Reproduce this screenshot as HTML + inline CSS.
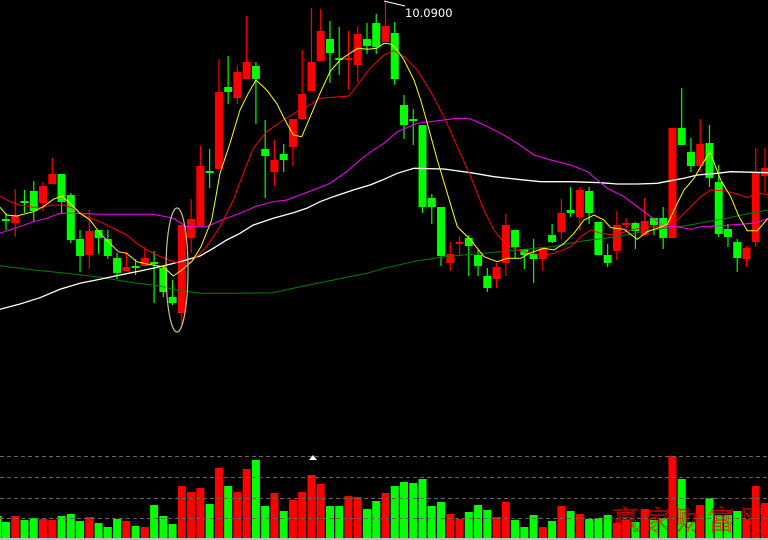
<!DOCTYPE html>
<html><head><meta charset="utf-8"><style>
html,body{margin:0;padding:0;background:#000;width:768px;height:540px;overflow:hidden}
svg{display:block}
</style></head><body>
<svg id="s" width="768" height="540" xmlns="http://www.w3.org/2000/svg">
<rect width="768" height="540" fill="#000"/>
<g id="vol"></g>
<g id="candles"></g>
<g id="lines" fill="none"></g>
<ellipse cx="177" cy="270" rx="11" ry="62" fill="none" stroke="#c8c080" stroke-width="1.2"/>
<polyline points="384,1 405,6" stroke="#fff" fill="none"/>
<text x="405" y="17" fill="#fff" font-family="DejaVu Sans, Liberation Sans, sans-serif" font-size="11.5">10.0900</text>
<g stroke="#666" stroke-dasharray="4,3" stroke-width="1">
<line x1="0" y1="456.5" x2="768" y2="456.5"/><line x1="0" y1="477.5" x2="768" y2="477.5"/>
<line x1="0" y1="498.5" x2="768" y2="498.5"/><line x1="0" y1="518.5" x2="768" y2="518.5"/>
</g>
<polygon points="313,455 309,460 317,460" fill="#fff"/>
<rect x="0" y="538" width="768" height="2" fill="#c0c0c0"/>
<text x="612" y="530" fill="none" stroke="#ff0000" stroke-width="0.6" font-family="Liberation Sans, 'Noto Serif CJK SC', serif" font-size="27" letter-spacing="5">赢家财富网</text>
</svg>
<script>
var R='#ff0000',G='#00ff00';
var c=[
['g',220,220,213,230],['r',216,223,189,237],['g',202,202,190,213],['g',191,211,181,222],['r',186,203,182,211],
['r',174,184,158,184],['g',174,202,174,214],['g',195,240,193,243],['g',239,256,230,272],['r',231,255,210,269],
['g',230,238,230,254],['g',239,256,230,259],['g',258,273,253,279],['r',267,271,252,271],['g',267,267,259,275],
['r',258,266,247,266],['g',263,263,251,303],['g',268,292,267,297],['g',297,303,280,305],['r',225,313,225,325],
['r',219,238,199,253],['r',166,226,146,226],['g',172,172,149,188],['r',92,169,59,169],['g',87,92,56,104],
['r',72,98,66,104],['r',62,79,16,79],['g',66,79,62,124],['g',149,156,120,198],['r',160,172,140,186],
['g',154,160,144,172],['r',119,147,119,166],['r',94,119,50,119],['r',62,91,8,91],['r',31,61,9,61],
['g',39,53,21,83],['g',59,59,27,75],['r',59,59,31,90],['r',34,65,26,82],['g',39,46,23,54],
['g',23,47,14,54],['r',26,42,1,42],['g',33,79,22,85],['g',105,125,95,139],['g',120,120,109,145],
['g',125,207,125,213],['g',198,207,194,224],['g',207,256,207,266],['r',254,263,242,271],['r',243,243,236,255],
['g',238,246,235,276],['g',255,266,249,276],['g',276,288,268,292],['r',267,279,263,288],['r',225,263,214,276],
['g',230,247,230,258],['g',249,255,249,269],['g',254,259,239,283],['r',248,259,248,271],['g',235,242,224,243],
['r',213,232,199,239],['g',210,213,187,217],['r',190,217,187,230],['g',191,213,187,224],['g',222,255,222,255],
['g',255,263,244,267],['r',225,251,211,260],['r',224,224,218,231],['g',223,231,222,249],['r',221,235,198,235],
['g',218,225,218,235],['g',218,238,207,249],['r',128,238,128,238],['g',128,145,88,145],['g',152,166,138,172],
['r',144,166,119,172],['g',143,178,125,187],['g',182,234,165,237],['g',229,237,224,247],['g',242,258,239,272],
['r',248,259,246,267],['r',173,242,148,247],['r',168,176,148,193]];
var v=[['g',522],['r',516],['g',520],['g',518],['r',519],['r',520],['g',516],['g',514],['g',521],['r',517],
['g',523],['g',527],['g',519],['r',521],['g',526],['r',527],['g',505],['g',516],['g',524],['r',486],
['r',492],['r',488],['g',504],['r',468],['g',486],['r',492],['r',469],['g',460],['g',506],['r',493],
['g',511],['r',500],['r',492],['r',475],['r',484],['g',506],['g',506],['r',496],['r',497],['g',509],
['g',501],['r',493],['g',486],['g',482],['g',483],['g',479],['g',506],['g',502],['r',514],['r',519],
['g',512],['g',505],['g',510],['r',517],['r',502],['g',520],['g',527],['g',515],['r',527],['g',521],
['r',506],['g',511],['r',514],['g',519],['g',518],['g',515],['r',523],['r',520],['g',522],['r',509],
['g',520],['g',518],['r',456],['g',479],['g',522],['r',505],['g',498],['g',515],['g',515],['g',511],
['r',519],['r',486],['r',503]];
var ns='http://www.w3.org/2000/svg';
function el(p,t,a){var e=document.createElementNS(ns,t);for(var k in a)e.setAttribute(k,a[k]);p.appendChild(e);return e;}
var cg=document.getElementById('candles'),vg=document.getElementById('vol');
el(vg,'rect',{x:-7,y:516,width:8.5,height:22,fill:G});
for(var i=0;i<c.length;i++){var x=6+9.256*i,d=c[i],col=d[0]=='r'?R:G;
 el(cg,'rect',{x:x-0.6,y:d[3],width:1.2,height:Math.max(1,d[4]-d[3]),fill:col});
 var h=d[2]-d[1];
 if(h<2){el(cg,'rect',{x:x-4,y:d[1]-1,width:8,height:2,fill:col});}
 else el(cg,'rect',{x:x-4,y:d[1],width:8,height:h,fill:col});
}
for(var i=0;i<v.length;i++){var x=6+9.256*i;el(vg,'rect',{x:x-4,y:v[i][1],width:8,height:538-v[i][1],fill:v[i][0]=='r'?R:G});}
function pts(a,b){var o=[];for(var i=0;i<a.length;i+=2)o.push((a[i]/3).toFixed(1)+','+(a[i+1]/3).toFixed(1));
 for(var i=0;i<b.length;i+=2)o.push((384+b[i]/3).toFixed(1)+','+(b[i+1]/3).toFixed(1));return o.join(' ');}
var L=[
['#008000',[0,797,100,810,200,820,300,832,400,848,480,858,540,872,600,880,700,880,820,878,900,860,1000,840,1100,820,1152,805],
 [100,782,200,768,300,760,400,750,500,740,600,722,700,710,800,690,900,678,1000,660,1100,640,1152,630]],
['#ffffff',[0,928,60,912,120,893,180,868,240,850,300,838,360,825,420,813,480,800,540,785,600,768,640,745,680,720,720,700,760,675,820,655,880,638,920,625,960,605,1000,590,1060,570,1110,555,1152,538],
 [40,520,90,505,180,507,260,518,330,530,400,538,470,545,560,545,650,548,700,552,760,552,820,550,860,542,900,535,940,525,1000,520,1040,515,1152,518]],
['#ff00ff',[0,700,50,683,100,665,140,655,180,640,220,640,300,643,460,643,520,655,560,680,620,680,660,662,720,640,770,618,820,605,860,600,900,585,940,570,990,550,1040,515,1080,480,1120,450,1152,430],
 [40,395,100,370,160,362,220,355,260,357,300,375,350,400,400,430,450,465,500,480,560,495,610,515,640,540,670,565,720,590,760,620,800,650,840,678,880,680,920,688,950,680,1000,678,1080,672,1120,668,1152,655]],
['#ff0000',[0,588,30,605,60,615,100,622,130,622,150,616,190,615,220,625,260,650,300,665,350,690,380,705,410,730,440,750,470,765,500,778,530,788,560,792,580,780,620,740,660,680,700,600,730,520,760,445,800,395,850,360,890,335,930,315,960,295,1000,292,1047,288,1080,245,1110,205,1152,165],
 [30,152,60,170,100,210,140,275,180,350,220,440,260,530,300,630,330,690,360,730,400,750,440,760,480,765,510,760,560,740,590,710,620,690,650,700,690,705,740,690,790,680,840,680,880,660,920,620,950,590,980,570,1020,572,1060,582,1090,593,1120,578,1152,585]],
['#ffff00',[0,622,20,645,50,648,100,635,130,620,160,598,185,588,210,610,240,640,270,660,300,700,330,730,355,755,380,760,410,785,440,792,490,800,520,828,545,810,575,785,603,740,635,660,660,520,690,430,720,330,745,280,768,240,800,270,830,310,855,360,880,405,905,410,935,340,960,280,990,215,1020,180,1050,160,1073,145,1104,148,1130,145,1152,130],
 [20,132,40,150,60,180,90,240,110,300,130,370,160,480,190,580,220,680,260,720,300,770,340,785,370,775,410,775,440,758,480,745,510,750,540,730,570,700,600,660,630,645,660,660,680,683,720,688,760,718,790,695,820,685,850,673,880,610,900,570,930,535,950,500,978,455,1010,540,1040,590,1065,650,1090,692,1120,692,1152,655]]];
var lg=document.getElementById('lines');
L.forEach(function(l){el(lg,'polyline',{points:pts(l[1],l[2]),stroke:l[0],'stroke-width':l[0]=='#ffffff'?1.3:1});});
</script>
</body></html>
